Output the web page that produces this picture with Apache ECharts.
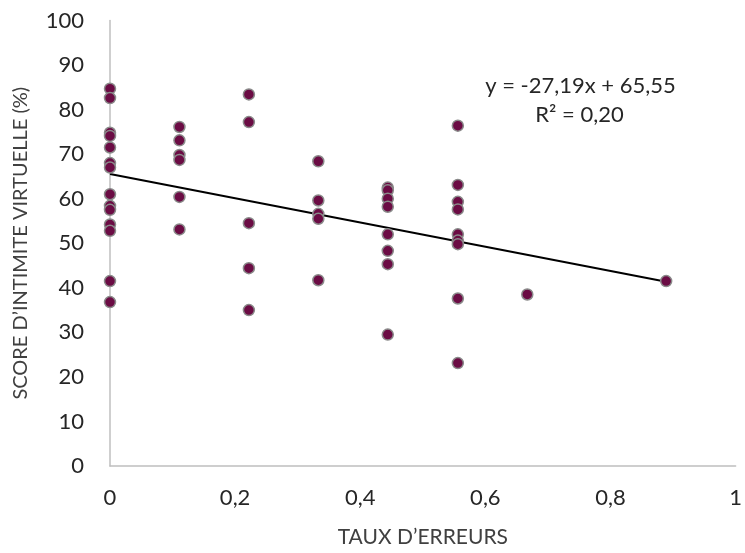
<!DOCTYPE html>
<html>
<head>
<meta charset="utf-8">
<script src="https://cdn.jsdelivr.net/npm/echarts@6/dist/echarts.min.js"></script>
<style>html,body{margin:0;padding:0;background:#fff}#c{width:745px;height:553px}</style>
</head>
<body>
<div id="c"></div>
<script>
const xValues = [
  0,0,0,0,0,0,0,0,0,0,0,0,0,0,
  0.111,0.111,0.111,0.111,0.111,0.111,
  0.222,0.222,0.222,0.222,0.222,
  0.333,0.333,0.333,0.333,0.333,
  0.444,0.444,0.444,0.444,0.444,0.444,0.444,0.444,
  0.556,0.556,0.556,0.556,0.556,0.556,0.556,0.556,0.556,
  0.667,
  0.889
];
const yValues = [
  84.7,82.6,74.8,74.1,71.5,68.0,67.0,61.0,58.4,57.5,54.2,52.8,41.5,36.8,
  76.1,73.1,69.8,68.7,60.4,53.1,
  83.4,77.2,54.5,44.4,35.0,
  68.4,59.6,56.6,55.5,41.7,
  62.5,61.9,60.0,58.2,52.0,48.3,45.3,29.5,
  76.4,63.1,59.3,57.6,52.0,50.6,49.8,37.6,23.1,
  38.5,
  41.5
];
const trendX = [0, 0.889];
const trendY = [65.55, 41.38];
const xTicks = [0, 0.2, 0.4, 0.6, 0.8, 1];
const yTicks = [0,10,20,30,40,50,60,70,80,90,100];
const equationText = 'y = -27,19x + 65,55';
const r2Text = 'R² = 0,20';

const font = 'Lato, "Open Sans", sans-serif';
const chart = echarts.init(document.getElementById('c'));
chart.setOption({
  animation: false,
  grid: {left: 110, right: 7, top: 20.5, bottom: 82},
  xAxis: {
    type: 'value', min: 0, max: 1, interval: 0.2,
    name: 'TAUX D\u2019ERREURS', nameLocation: 'middle', nameGap: 61,
    nameTextStyle: {fontFamily: font, fontSize: 21, color: '#404040'},
    axisLine: {show: true, lineStyle: {color: '#bfbfbf', width: 1.5}},
    axisTick: {show: false},
    splitLine: {show: false},
    axisLabel: {fontFamily: font, fontSize: 22, color: '#262626', margin: 21,
      formatter: v => String(+v.toFixed(1)).replace('.', ',')}
  },
  yAxis: {
    type: 'value', min: 0, max: 100, interval: 10,
    name: 'SCORE D\u2019INTIMITE VIRTUELLE (%)', nameLocation: 'middle', nameGap: 79,
    nameTextStyle: {fontFamily: font, fontSize: 20, color: '#404040'},
    axisLine: {show: true, lineStyle: {color: '#bfbfbf', width: 1.5}},
    axisTick: {show: false},
    splitLine: {show: false},
    axisLabel: {fontFamily: font, fontSize: 22, color: '#262626', margin: 26}
  },
  series: [
    {
      type: 'line',
      data: trendX.map((x, i) => [x, trendY[i]]),
      symbol: 'none',
      lineStyle: {color: '#000', width: 2},
      z: 1
    },
    {
      type: 'scatter',
      data: xValues.map((x, i) => [x, yValues[i]]),
      symbolSize: 11,
      itemStyle: {color: '#6b0c44', borderColor: '#8a8a8a', borderWidth: 1.5, opacity: 1},
      z: 2
    }
  ],
  graphic: [
    {type: 'text', x: 580.5, y: 86, style: {text: equationText, fontFamily: font, fontSize: 22, fill: '#262626', align: 'center', verticalAlign: 'middle'}},
    {type: 'text', x: 579.5, y: 115, style: {text: r2Text, fontFamily: font, fontSize: 22, fill: '#262626', align: 'center', verticalAlign: 'middle'}}
  ]
});
</script>
</body>
</html>
